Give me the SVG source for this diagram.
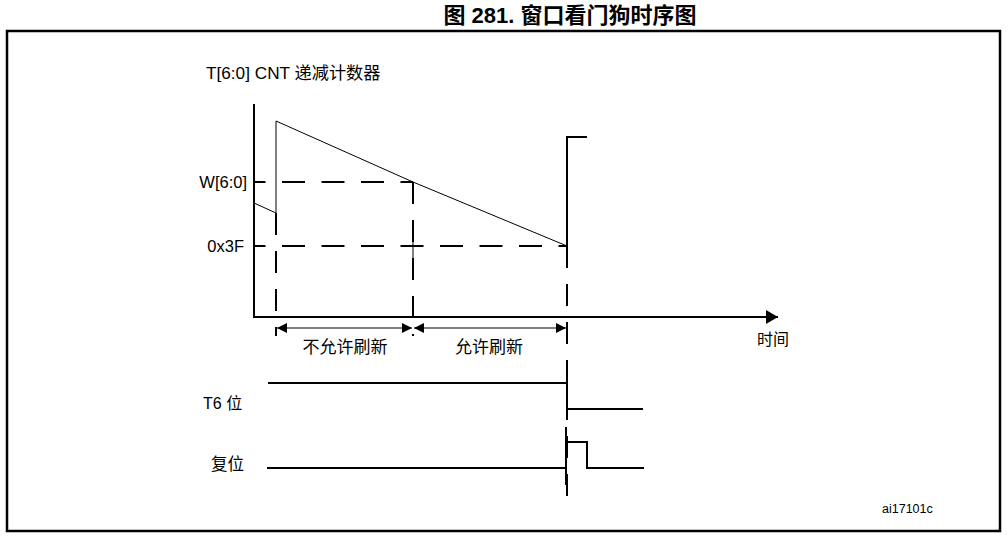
<svg xmlns="http://www.w3.org/2000/svg" width="1008" height="538" viewBox="0 0 1008 538">
<style>
.lat{font-family:"Liberation Sans","Noto Sans CJK SC",Arial,sans-serif;fill:#000}
.cjk{font-family:"Noto Sans CJK SC","Liberation Serif",serif;fill:#000}
.thin{stroke:#000;stroke-width:1;fill:none}
.thick{stroke:#000;stroke-width:2;fill:none}
.dash{stroke:#000;stroke-width:2;fill:none;stroke-dasharray:22 16}
.hdash{stroke:#000;stroke-width:2;fill:none;stroke-dasharray:23 16.5;stroke-dashoffset:11.5}
</style>
<defs>
<marker id="ah" viewBox="0 0 10 10" refX="10" refY="5" markerWidth="10" markerHeight="10" markerUnits="userSpaceOnUse" orient="auto-start-reverse">
<path d="M0,0 L10,5 L0,10 Z" fill="#000"/>
</marker>
<marker id="axh" viewBox="0 0 12 14" refX="12" refY="7" markerWidth="12" markerHeight="14" markerUnits="userSpaceOnUse" orient="auto">
<path d="M0,0 L12,7 L0,14 Z" fill="#000"/>
</marker>
</defs>
<rect width="1008" height="538" fill="#fff"/>
<text class="lat" x="570" y="22.5" font-size="22" font-weight="bold" text-anchor="middle">图 281. 窗口看门狗时序图</text>
<rect x="7" y="31" width="993" height="500" fill="none" stroke="#000" stroke-width="2.5"/>
<g id="axes">
<line class="thick" x1="254" y1="104" x2="254" y2="317"/>
<line class="thick" x1="253" y1="317" x2="778" y2="317" marker-end="url(#axh)"/>
</g>
<g id="labels">
<text x="206" y="79" font-size="17.2"><tspan class="lat">T[6:0] CNT </tspan><tspan class="cjk">递减计数器</tspan></text>
<text class="lat" x="247" y="188" font-size="16.5" text-anchor="end">W[6:0]</text>
<text class="lat" x="244" y="252" font-size="16.5" text-anchor="end">0x3F</text>
<text class="cjk" x="757" y="345" font-size="16">时间</text>
<text x="203" y="409" font-size="16"><tspan class="lat">T6 </tspan><tspan class="cjk">位</tspan></text>
<text class="cjk" x="211" y="470" font-size="16.5">复位</text>
<text class="lat" x="882" y="513" font-size="12.5">ai17101c</text>
</g>
<g id="counter">
<polyline class="thin" points="254,203 276,213 276,121 413,182 567,246"/>
<polyline class="thick" points="567,246 567,137 587,137"/>
</g>
<g id="guides">
<line class="hdash" x1="254" y1="182" x2="413" y2="182"/>
<line class="hdash" x1="254" y1="246" x2="567" y2="246"/>
<line class="dash" x1="276" y1="213" x2="276" y2="336"/>
<line class="dash" x1="413" y1="182" x2="413" y2="336"/>
<line class="dash" x1="567" y1="246" x2="567" y2="502" stroke-dasharray="24 14"/>
<line class="thin" x1="413" y1="238" x2="413" y2="258"/>
</g>
<g id="connectors">
<line class="thin" x1="277" y1="328" x2="412" y2="328" marker-start="url(#ah)" marker-end="url(#ah)"/>
<line class="thin" x1="414" y1="328" x2="566" y2="328" marker-start="url(#ah)" marker-end="url(#ah)"/>
</g>
<g id="region-labels">
<text class="cjk" x="345" y="353" font-size="17" text-anchor="middle">不允许刷新</text>
<text class="cjk" x="489" y="353" font-size="17" text-anchor="middle">允许刷新</text>
</g>
<g id="t6-signal">
<polyline class="thick" points="268,383 567,383 567,409 643,409"/>
</g>
<g id="reset-signal">
<polyline class="thick" points="267,468 566,468 566,442 587,442 587,468 644,468"/>
<line class="thick" x1="566" y1="427" x2="566" y2="485"/>
</g>
</svg>
